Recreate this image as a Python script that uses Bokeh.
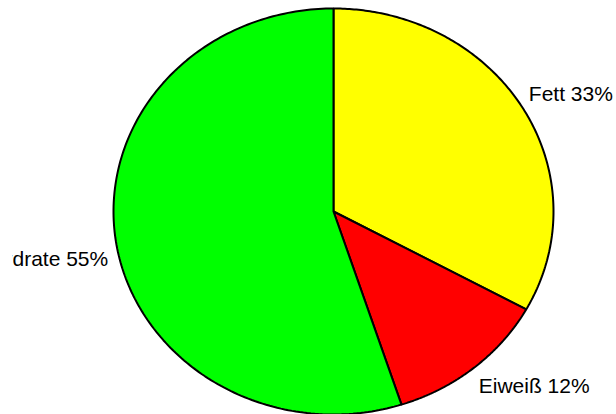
import numpy as np
from bokeh.plotting import figure
from bokeh.models import ColumnDataSource
from bokeh.embed import file_html
from bokeh.resources import INLINE
from bokeh.core.properties import value

categories = ["Fett", "Eiweiß", "Kohlenhydrate"]
percents = [33, 12, 55]
colors = ["#FFFF00", "#FF0000", "#00FF00"]
# label pixel offsets (style only)
label_dx = [6, 5, -8]
label_dy = [-15, 18, 15]
label_align = ["left", "left", "right"]

W, H = 616, 414
left_pad = 12
cx_px, cy_px, rx_px, ry_px = 333 - left_pad, 211, 220, 203
FW = W - left_pad

p = figure(width=W, height=H, output_backend="svg", toolbar_location=None,
           x_range=(-cx_px / rx_px, (FW - cx_px) / rx_px),
           y_range=(-(H - cy_px) / ry_px, cy_px / ry_px),
           min_border=0, min_border_left=left_pad, outline_line_color=None)
p.axis.visible = False
p.grid.visible = False
p.background_fill_color = "white"
p.border_fill_color = "white"

total = float(sum(percents))
xs, ys, lx, ly, texts = [], [], [], [], []
start = 0.0
for cat, pct in zip(categories, percents):
    a0 = start / total * 2 * np.pi
    a1 = (start + pct) / total * 2 * np.pi
    t = np.linspace(a0, a1, 200)
    xs.append(np.concatenate([[0.0], np.sin(t), [0.0]]))
    ys.append(np.concatenate([[0.0], np.cos(t), [0.0]]))
    am = (a0 + a1) / 2
    lx.append(np.sin(am))
    ly.append(np.cos(am))
    texts.append(f"{cat} {pct}%")
    start += pct

src = ColumnDataSource(dict(xs=xs, ys=ys, color=colors))
p.patches("xs", "ys", fill_color="color", line_color="black", line_width=2, source=src)

for i in range(len(categories)):
    p.text(x=[lx[i]], y=[ly[i]], text=[texts[i]], text_font=value("Liberation Sans"),
           text_font_size="21px", text_color="black", text_align=label_align[i],
           text_baseline="middle", x_offset=label_dx[i], y_offset=label_dy[i])

open("out.html", "w").write(file_html(p, INLINE))
